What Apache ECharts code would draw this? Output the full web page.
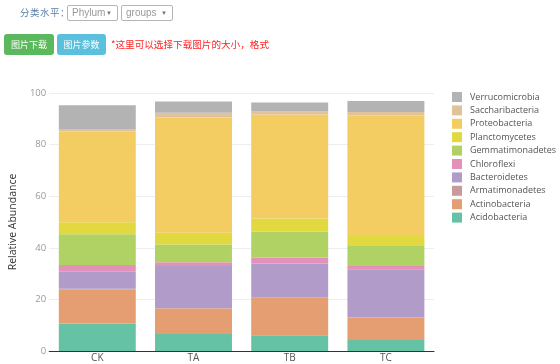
<!DOCTYPE html>
<html>
<head>
<meta charset="utf-8">
<script src="https://cdn.jsdelivr.net/npm/echarts@6/dist/echarts.min.js"></script>
<style>
  html, body { margin: 0; padding: 0; background: #fff; }
  body { width: 560px; height: 364px; position: relative; overflow: hidden; font-family: "Noto Sans CJK SC", "DejaVu Sans", sans-serif; }
  #chart { position: absolute; left: 0; top: 0; width: 560px; height: 364px; }
  .ui { position: absolute; z-index: 2; box-sizing: border-box; white-space: nowrap; }
  .lbl { left: 20px; top: 5px; font-size: 9.5px; color: #5b7fa6; line-height: 14px; letter-spacing: 0.5px; }
  .sel { top: 5px; height: 16px; border: 1px solid #b5b5b5; border-radius: 2px; font-size: 10px; color: #999; line-height: 14px; padding-left: 4px; font-family: "Liberation Sans", "DejaVu Sans", sans-serif; }
  .sel span { position: absolute; right: 5px; top: 0; font-size: 6px; color: #777; }
  .btn { top: 34px; height: 21px; border-radius: 3px; color: #fff; font-size: 9px; line-height: 21px; text-align: center; }
  .note { left: 111px; top: 37px; font-size: 9.6px; color: #ff2222; line-height: 14px; }
</style>
</head>
<body>
<div id="chart"></div>
<div class="ui lbl">分类水平：</div>
<div class="ui sel" style="left:67px;width:51px;">Phylum <span>▼</span></div>
<div class="ui sel" style="left:121px;width:52px;">groups <span>▼</span></div>
<div class="ui btn" style="left:4px;width:50px;background:#5cb85c;">图片下载</div>
<div class="ui btn" style="left:57px;width:49px;background:#5bc0de;">图片参数</div>
<div class="ui note">*这里可以选择下载图片的大小，格式</div>
<script>
const categories = ["CK", "TA", "TB", "TC"];
const seriesNames = ["Acidobacteria", "Actinobacteria", "Armatimonadetes", "Bacteroidetes", "Chloroflexi", "Gemmatimonadetes", "Planctomycetes", "Proteobacteria", "Saccharibacteria", "Verrucomicrobia"];
const Acidobacteria    = [10.7, 6.6, 6.1, 4.3];
const Actinobacteria   = [13.2, 9.9, 14.4, 8.6];
const Armatimonadetes  = [0.2, 0.2, 0.2, 0.2];
const Bacteroidetes    = [6.6, 16.2, 13.2, 18.6];
const Chloroflexi      = [2.6, 1.5, 2.3, 1.2];
const Gemmatimonadetes = [12.0, 6.9, 10.0, 8.1];
const Planctomycetes   = [4.6, 4.5, 5.2, 3.6];
const Proteobacteria   = [35.2, 44.7, 40.3, 46.7];
const Saccharibacteria = [0.9, 1.8, 1.1, 1.3];
const Verrucomicrobia  = [9.3, 4.4, 3.5, 4.3];
const yTicks = [0, 20, 40, 60, 80, 100];

const values = [Acidobacteria, Actinobacteria, Armatimonadetes, Bacteroidetes, Chloroflexi, Gemmatimonadetes, Planctomycetes, Proteobacteria, Saccharibacteria, Verrucomicrobia];
const colors = ["#66c2a5", "#e59d72", "#c99a9c", "#b19cc9", "#e391b9", "#b0d264", "#e2d83f", "#f4cd62", "#e1c29b", "#b3b3b3"];

const chart = echarts.init(document.getElementById('chart'), null, { renderer: 'canvas' });
chart.setOption({
  animation: false,
  color: colors,
  grid: { left: 46, right: 126, top: 93, bottom: 13, containLabel: false },
  legend: {
    orient: 'vertical',
    left: 452,
    top: 92,
    padding: 0,
    itemWidth: 10,
    itemHeight: 10,
    itemGap: 3.4,
    icon: 'rect',
    data: seriesNames.slice().reverse(),
    textStyle: { fontSize: 9, color: '#555', fontFamily: 'Open Sans, DejaVu Sans, sans-serif', padding: [0, 0, 0, 3] }
  },
  xAxis: {
    type: 'category',
    data: categories,
    axisTick: { show: false },
    axisLine: { lineStyle: { color: '#333', width: 1 } },
    axisLabel: { color: '#555', fontSize: 10, margin: 2, fontFamily: 'Open Sans, DejaVu Sans, sans-serif' }
  },
  yAxis: {
    type: 'value',
    min: yTicks[0],
    max: yTicks[yTicks.length - 1],
    interval: 20,
    name: 'Relative Abundance',
    nameLocation: 'middle',
    nameGap: 20,
    nameTextStyle: { fontSize: 10.5, color: '#333', fontFamily: 'Open Sans, DejaVu Sans, sans-serif' },
    axisLine: { show: false },
    axisTick: { show: false },
    axisLabel: { color: '#999', fontSize: 9.5, margin: 3, fontFamily: 'Open Sans, DejaVu Sans, sans-serif' },
    splitLine: { lineStyle: { color: '#eee', width: 1 } }
  },
  series: seriesNames.map((n, i) => ({
    name: n,
    type: 'bar',
    stack: 'total',
    barCategoryGap: '20%',
    data: values[i]
  }))
});
</script>
</body>
</html>
